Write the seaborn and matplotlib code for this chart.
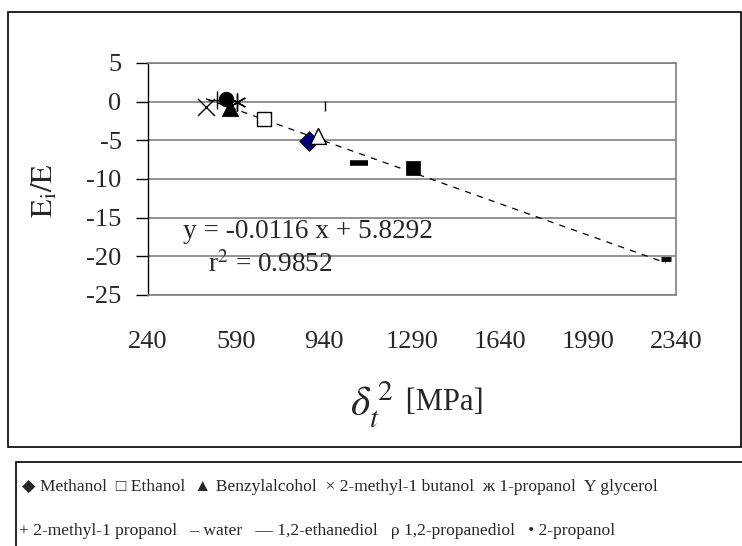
import numpy as np
import pandas as pd
import matplotlib
matplotlib.use("Agg")
import matplotlib.pyplot as plt
from matplotlib.patches import Rectangle
import seaborn as sns

# ---- data ----
compounds = ["Methanol", "Ethanol", "Benzylalcohol", "2-methyl-1 butanol", "1-propanol",
             "glycerol", "2-methyl-1 propanol", "water", "1,2-ethanediol",
             "1,2-propanediol", "2-propanol"]
delta2 = [880, 701, 566, 471, 594, 1294, 513, 2300, 1079, 918, 550]
ei_e = [-5.05, -2.25, -0.85, -0.65, 0.0, -8.55, 0.2, -20.4, -7.9, -4.4, 0.3]
extra_x = [944]
extra_y = [-0.6]

legend_row1_sym = ["◆", "□", "▲", "×", "ж", "Υ"]
legend_row1_lab = ["Methanol", "Ethanol", "Benzylalcohol", "2-methyl-1 butanol", "1-propanol", "glycerol"]
legend_row2_sym = ["+", "–", "—", "ρ", "•"]
legend_row2_lab = ["2-methyl-1 propanol", "water", "1,2-ethanediol", "1,2-propanediol", "2-propanol"]

slope, intercept, r2 = -0.0116, 5.8292, 0.9852
xticks = [240, 590, 940, 1290, 1640, 1990, 2340]
yticks = [5, 0, -5, -10, -15, -20, -25]

# ---- style ----
sns.set_style("white")
plt.rcParams["font.family"] = ["Liberation Serif", "DejaVu Serif"]
plt.rcParams["mathtext.fontset"] = "stix"

styles = {
    "Methanol": dict(marker="D", s=95, color="#000080", edgecolor="black", linewidth=0.8),
    "Ethanol": dict(marker="s", s=100, facecolor="white", edgecolor="black", linewidth=1.0),
    "Benzylalcohol": dict(marker="^", s=140, color="black", edgecolor="black", linewidth=0.5),
    "2-methyl-1 butanol": dict(marker="x", s=150, color="black", linewidth=1.0),
    "1-propanol": dict(marker=(6, 2, 0), s=150, color="black", linewidth=1.0),
    "glycerol": dict(marker="s", s=100, color="black", edgecolor="black", linewidth=0.5),
    "2-methyl-1 propanol": dict(marker="+", s=180, color="black", linewidth=1.0),
    "water": dict(marker="_", s=50, color="black", linewidth=3.5),
    "1,2-ethanediol": dict(marker="_", s=170, color="black", linewidth=4.0),
    "1,2-propanediol": dict(marker="^", s=130, facecolor="white", edgecolor="black", linewidth=1.0),
    "2-propanol": dict(marker="o", s=110, color="black", edgecolor="black", linewidth=0.5),
}

fig = plt.figure(figsize=(7.42, 5.46), dpi=100)
W, H = 742, 546
ax = fig.add_axes([148 / W, 1 - 295 / H, 528 / W, 232 / H])

# trend line
xl = np.array([min(delta2), max(delta2)], dtype=float)
trend = pd.DataFrame({"x": xl, "y": slope * xl + intercept})
sns.lineplot(data=trend, x="x", y="y", ax=ax, color="black", linewidth=0.9,
             linestyle=(0, (5, 5)), zorder=2)

df = pd.DataFrame({"compound": compounds, "x": delta2, "y": ei_e})
for _, row in df.iterrows():
    st = dict(styles[row["compound"]])
    sns.scatterplot(x=[row["x"]], y=[row["y"]], ax=ax, zorder=3, legend=False, **st)

sns.scatterplot(x=extra_x, y=extra_y, ax=ax, marker="|", s=60, color="black",
                linewidth=1.0, zorder=3, legend=False)

ax.set_xlim(240, 2340)
ax.set_ylim(-25, 5)
ax.set_xticks(xticks)
ax.set_yticks(yticks)
ax.set_xticklabels([str(t) for t in xticks], fontsize=19)
ax.set_yticklabels([str(t) for t in yticks], fontsize=19)
ax.tick_params(axis="x", length=0, pad=26)
ax.tick_params(axis="y", direction="out", length=9, width=1, color="black", pad=10, left=True)
ax.grid(axis="y", color="#808080", linewidth=1.2)
ax.set_axisbelow(True)
for side in ["top", "right", "bottom"]:
    ax.spines[side].set_color("#808080")
    ax.spines[side].set_linewidth(1.2)
ax.spines["left"].set_color("black")
ax.spines["left"].set_linewidth(1.0)
ax.set_xlabel("")
ax.set_ylabel("")

# axis labels
fig.text(45 / W, 1 - 190 / H, r"$\mathrm{E_i/E}$", rotation=90, fontsize=22,
         ha="center", va="center")
fig.text(393 / W, 1 - 405 / H, r"$\delta_t^{\,2}$", fontsize=30, ha="right", va="center")
fig.text(398 / W, 1 - 402 / H, " [MPa]", fontsize=22, ha="left", va="center")

# equation
fig.text(183 / W, 1 - 231 / H, f"y = {slope} x + {intercept}", fontsize=19.6, ha="left", va="center")
fig.text(208 / W, 1 - 265 / H, r"r$^2$ = " + f"{r2}", fontsize=19.6, ha="left", va="center")

# frames
fig.patches.append(Rectangle((8 / W, 1 - 447 / H), 733 / W, 435 / H, transform=fig.transFigure,
                             fill=False, edgecolor="black", linewidth=1.2))
fig.patches.append(Rectangle((16 / W, -0.05), 1.0, (1 - 462 / H) + 0.05, transform=fig.transFigure,
                             fill=False, edgecolor="black", linewidth=1.2))

row1 = "  ".join(f"{s} {l}" for s, l in zip(legend_row1_sym, legend_row1_lab))
row2 = "   ".join(f"{s} {l}" for s, l in zip(legend_row2_sym, legend_row2_lab))
fig.text(22 / W, 1 - 487 / H, row1, fontsize=12.6, ha="left", va="center")
fig.text(19 / W, 1 - 531 / H, row2, fontsize=12.6, ha="left", va="center")

fig.savefig("out.png", dpi=100)
